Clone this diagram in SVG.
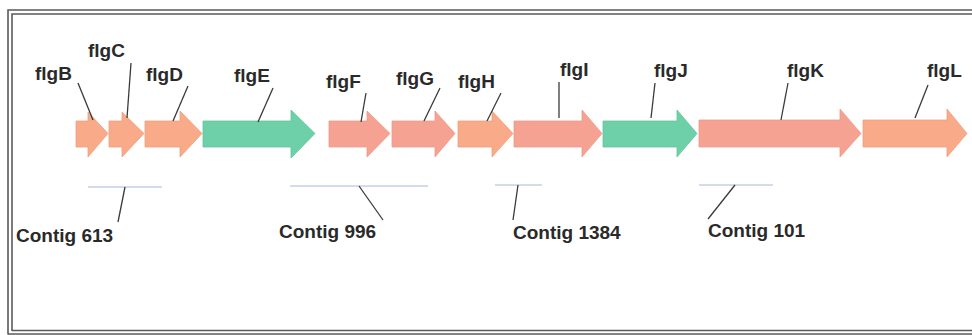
<svg xmlns="http://www.w3.org/2000/svg" width="972" height="335" viewBox="0 0 972 335">
<style>
  .frame { fill: none; stroke: #5a5a5a; stroke-width: 1.6; }
  .lbl { font-family: "Liberation Sans", Arial, sans-serif; font-weight: bold; font-size: 19px; fill: #2a2a2a; }
  .orange { fill: #f9aa88; stroke: #f0a080; stroke-width: 0.8; }
  .pink { fill: #f6a293; stroke: #ee9a8c; stroke-width: 0.8; }
  .teal { fill: #6dd0a8; stroke: #62c49c; stroke-width: 0.8; }
  .lead { stroke: #3a3a3a; stroke-width: 1.3; fill: none; }
  .contig { stroke: #a8b8dc; stroke-width: 1.2; fill: none; }
</style>
<rect width="972" height="335" fill="#ffffff"/>
<g id="frame">
  <path class="frame" d="M 8 334.5 V 10 H 975"/>
  <path class="frame" d="M 12 331 V 14 H 975"/>
  <path class="frame" d="M 8 334 H 975"/>
  <path class="frame" d="M 12 330.5 H 975"/>
</g>
<g id="genes">
  <g id="flgB"><path class="orange" d="M76 121H88V112L108 133.5L88 157V147H76Z"/><text class="lbl" x="35" y="80">flgB</text></g>
  <g id="flgC"><path class="orange" d="M109 121H122V112L144 133.5L122 157V147H109Z"/><text class="lbl" x="88" y="57">flgC</text></g>
  <g id="flgD"><path class="orange" d="M145 121H180V111L202 133.5L180 157V147H145Z"/><text class="lbl" x="146" y="81">flgD</text></g>
  <g id="flgE"><path class="teal" d="M203 121H291V110L315 133.5L291 158V147H203Z"/><text class="lbl" x="234" y="82">flgE</text></g>
  <g id="flgF"><path class="pink" d="M329 121H367V111L390 133.5L367 157V147H329Z"/><text class="lbl" x="326" y="88">flgF</text></g>
  <g id="flgG"><path class="pink" d="M392 121H435V111L455 133.5L435 157V147H392Z"/><text class="lbl" x="396" y="85">flgG</text></g>
  <g id="flgH"><path class="orange" d="M458 121H492V111L513 133.5L492 157V147H458Z"/><text class="lbl" x="458" y="88">flgH</text></g>
  <g id="flgI"><path class="pink" d="M514 121H582V110L602 133.5L582 157V147H514Z"/><text class="lbl" x="560" y="76">flgI</text></g>
  <g id="flgJ"><path class="teal" d="M603 121H677V110L697 133.5L677 157V147H603Z"/><text class="lbl" x="654" y="77">flgJ</text></g>
  <g id="flgK"><path class="pink" d="M699 120H840V109L861 133.5L840 157V147H699Z"/><text class="lbl" x="787" y="77">flgK</text></g>
  <g id="flgL"><path class="orange" d="M863 120H947V109L967 133.5L947 157V147H863Z"/><text class="lbl" x="927" y="77">flgL</text></g>
</g>
<g id="contigs">
  <g id="contig613"><text class="lbl" x="16" y="242">Contig 613</text></g>
  <g id="contig996"><text class="lbl" x="279" y="238">Contig 996</text></g>
  <g id="contig1384"><text class="lbl" x="513" y="239">Contig 1384</text></g>
  <g id="contig101"><text class="lbl" x="708" y="237">Contig 101</text></g>
</g>
<g id="connectors">
  <line class="lead" x1="78" y1="83" x2="93" y2="120"/>
  <line class="lead" x1="131" y1="63" x2="127" y2="118"/>
  <line class="lead" x1="188" y1="86" x2="173" y2="121"/>
  <line class="lead" x1="273" y1="88" x2="258" y2="122"/>
  <line class="lead" x1="366" y1="93" x2="361" y2="122"/>
  <line class="lead" x1="440" y1="88" x2="424" y2="121"/>
  <line class="lead" x1="501" y1="93" x2="487" y2="121"/>
  <line class="lead" x1="559" y1="82" x2="559" y2="118"/>
  <line class="lead" x1="655" y1="83" x2="651" y2="118"/>
  <line class="lead" x1="788" y1="83" x2="781" y2="120"/>
  <line class="lead" x1="928" y1="85" x2="915" y2="118"/>
  <line class="contig" x1="88" y1="187" x2="162" y2="187"/>
  <line class="contig" x1="290" y1="186" x2="428" y2="186"/>
  <line class="contig" x1="495" y1="185" x2="542" y2="185"/>
  <line class="contig" x1="699" y1="185" x2="773" y2="185"/>
  <line class="lead" x1="125" y1="187" x2="118" y2="222"/>
  <line class="lead" x1="359" y1="186" x2="383" y2="220"/>
  <line class="lead" x1="518" y1="185" x2="513" y2="220"/>
  <line class="lead" x1="735" y1="185" x2="708" y2="219"/>
</g>
</svg>
